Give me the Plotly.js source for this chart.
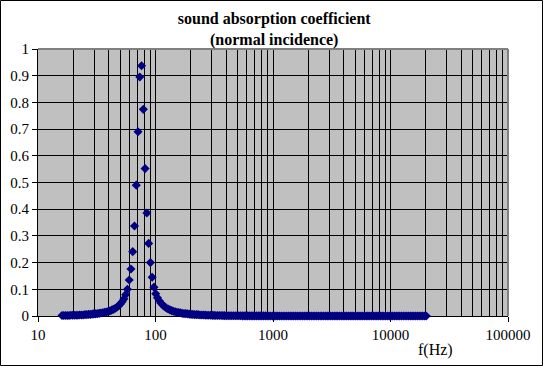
<!DOCTYPE html>
<html>
<head>
<meta charset="utf-8">
<script src="https://cdn.plot.ly/plotly-3.0.1.min.js"></script>
<style>
html,body{margin:0;padding:0;background:#fff;}
#chart{width:543px;height:366px;}
</style>
</head>
<body>
<div id="chart"></div>
<script>
// frequency (Hz)
var freqHz = [16,16.56,17.15,17.75,18.38,19.03,19.70,20.39,21.11,21.86,22.63,23.43,24.25,25.11,25.99,26.91,27.86,28.84,29.86,30.91,
32,33.13,34.30,35.51,36.76,38.05,39.40,40.79,42.22,43.71,45.25,46.85,48.50,50.21,51.98,53.82,55.72,57.68,59.71,61.82,
64,66.26,68.59,71.01,73.52,76.11,78.79,81.57,84.45,87.43,90.51,93.70,97.01,100.43,103.97,107.63,111.43,115.36,119.43,123.64,
128,132.5,137.2,142.0,147.0,152.2,157.6,163.1,168.9,174.9,181.0,187.4,194.0,200.9,207.9,215.3,222.9,230.7,238.9,247.3,
256,265.0,274.4,284.0,294.1,304.4,315.2,326.3,337.8,349.7,362.0,374.8,388.0,401.7,415.9,430.5,445.7,461.4,477.7,494.6,
512,530,549,568,588,609,630,653,676,699,724,750,776,803,832,861,891,923,955,989,
1024,1060,1097,1136,1176,1218,1261,1305,1351,1399,1448,1499,1552,1607,1664,1722,1783,1846,1911,1978,
2048,2120,2195,2272,2353,2435,2521,2610,2702,2798,2896,2998,3104,3214,3327,3444,3566,3691,3822,3956,
4096,4240,4390,4545,4705,4871,5043,5221,5405,5595,5793,5997,6208,6427,6654,6889,7132,7383,7643,7913,
8192,8481,8780,9090,9410,9742,10086,10441,10810,11191,11585,11994,12417,12855,13308,13778,14263,14766,15287,15826,
16384,16962,17560,18179,18820,19484,20171];

// absorption coefficient
var alpha = [0.002,0.002,0.002,0.002,0.002,0.003,0.003,0.003,0.003,0.003,0.004,0.004,0.004,0.005,0.005,0.006,0.006,0.007,0.008,0.008,
0.009,0.010,0.011,0.012,0.014,0.015,0.017,0.019,0.022,0.025,0.028,0.033,0.038,0.045,0.053,0.064,0.080,0.100,0.135,0.176,
0.241,0.337,0.490,0.690,0.895,0.937,0.774,0.552,0.386,0.272,0.200,0.145,0.108,0.083,0.068,0.057,0.048,0.041,0.035,0.030,
0.026,0.023,0.020,0.018,0.016,0.014,0.013,0.012,0.010,0.009,0.009,0.008,0.007,0.006,0.006,0.005,0.005,0.005,0.004,0.004,
0.0035,0.0033,0.0030,0.0028,0.0026,0.0024,0.0022,0.0020,0.0019,0.0017,0.0016,0.0015,0.0014,0.0013,0.0012,0.0011,0.0010,0.0010,0.0009,0.0008,
0.0007,0.0007,0.0006,0.0006,0.0006,0.0005,0.0005,0.0005,0.0004,0.0004,0.0004,0.0003,0.0003,0.0003,0.0003,0.0003,0.0002,0.0002,0.0002,0.0002,
0.0002,0.0002,0.0002,0.0002,0.0001,0.0001,0.0001,0.0001,0.0001,0.0001,0.0001,0.0001,0.0001,0.0001,0.0001,0.0001,0.0001,0.0001,0.0001,0,
0,0,0,0,0,0,0,0,0,0,0,0,0,0,0,0,0,0,0,0,
0,0,0,0,0,0,0,0,0,0,0,0,0,0,0,0,0,0,0,0,
0,0,0,0,0,0,0,0,0,0,0,0,0,0,0,0,0,0,0,0,
0,0,0,0,0,0,0];

var xMajorTicks = [10,100,1000,10000,100000];
var xMajorLabels = ["10","100","1000","10000","100000"];
var xMinorTicks = [20,30,40,50,60,70,80,90,200,300,400,500,600,700,800,900,
2000,3000,4000,5000,6000,7000,8000,9000,20000,30000,40000,50000,60000,70000,80000,90000];
var yTicks = [0,0.1,0.2,0.3,0.4,0.5,0.6,0.7,0.8,0.9,1];
var yLabels = ["0","0.1","0.2","0.3","0.4","0.5","0.6","0.7","0.8","0.9","1"];

var serif = "Times New Roman, Liberation Serif, serif";

var trace = {
  x: freqHz, y: alpha, type: 'scatter', mode: 'markers',
  cliponaxis: false,
  marker: {symbol: 'diamond', size: 7, color: '#000080', line: {width: 0}},
  hoverinfo: 'x+y'
};

var L = 38, R = 508, T = 49, B = 316, W = 543, H = 366;
function px(xp){ return (xp - L) / (R - L); }
function py(yp){ return (B - yp) / (B - T); }

var layout = {
  width: W, height: H,
  margin: {l: L, r: W - R, t: T, b: H - B, pad: 0},
  paper_bgcolor: '#ffffff',
  plot_bgcolor: '#c0c0c0',
  showlegend: false,
  font: {family: serif, size: 15, color: '#000'},
  title: {
    text: '<b>sound absorption coefficient</b><br><b>(normal incidence)</b>',
    font: {family: serif, size: 16, color: '#000'},
    x: 0.505, xanchor: 'center', xref: 'container',
    y: (H - 24) / H, yanchor: 'middle', yref: 'container'
  },
  xaxis: {
    type: 'log', range: [1, 5],
    tickmode: 'array', tickvals: xMajorTicks, ticktext: xMajorLabels,
    ticks: 'outside', ticklen: 5, tickwidth: 1, tickcolor: '#000',
    showgrid: true, gridcolor: '#000', gridwidth: 1,
    showline: true, linecolor: '#000', linewidth: 1,
    zeroline: false, layer: 'below traces',
    tickfont: {family: serif, size: 15, color: '#000'},
    minor: {tickmode: 'array', tickvals: xMinorTicks, ticks: '', showgrid: true, gridcolor: '#000', gridwidth: 1}
  },
  yaxis: {
    range: [0, 1],
    tickmode: 'array', tickvals: yTicks, ticktext: yLabels,
    ticks: 'outside', ticklen: 5, tickwidth: 1, tickcolor: '#000',
    showgrid: true, gridcolor: '#000', gridwidth: 1,
    showline: true, linecolor: '#000', linewidth: 1,
    zeroline: false, layer: 'below traces',
    tickfont: {family: serif, size: 15, color: '#000'}
  },
  annotations: [{
    text: 'f(Hz)', xref: 'paper', yref: 'paper',
    x: px(435), y: py(350), xanchor: 'center', yanchor: 'middle',
    showarrow: false, font: {family: serif, size: 16, color: '#000'}
  }],
  shapes: [
    {type: 'line', xref: 'paper', yref: 'paper', x0: 0, x1: 1, y0: 1, y1: 1, line: {color: '#808080', width: 2}, layer: 'above'},
    {type: 'line', xref: 'paper', yref: 'paper', x0: 1, x1: 1, y0: 0, y1: 1, line: {color: '#808080', width: 2}, layer: 'above'},
    {type: 'rect', xref: 'paper', yref: 'paper',
     x0: px(0.5), x1: px(542.5), y0: py(365.5), y1: py(0.5),
     line: {color: '#000', width: 1}, fillcolor: 'rgba(0,0,0,0)', layer: 'above'}
  ]
};

Plotly.newPlot('chart', [trace], layout, {displayModeBar: false, staticPlot: true});
</script>
</body>
</html>
